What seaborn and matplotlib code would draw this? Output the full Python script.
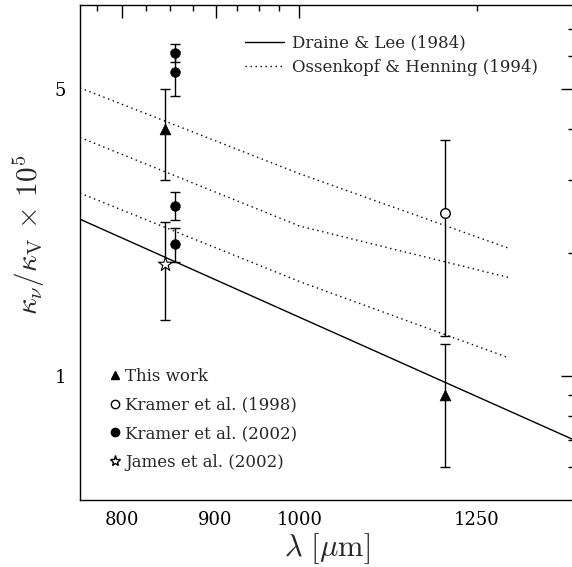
import matplotlib
matplotlib.use("Agg")
import matplotlib.pyplot as plt
import seaborn as sns
import pandas as pd
import numpy as np
from matplotlib.lines import Line2D
from matplotlib.ticker import FixedLocator, FixedFormatter, NullFormatter

# Draine & Lee (1984), read at the plot edges
dl_lam = [759, 1412]
dl_kappa = [2.41, 0.70]

# Ossenkopf & Henning (1994), three models
oh_lam = [759, 1000, 1300]
oh_top = [5.03, 3.11, 2.05]
oh_mid = [3.81, 2.32, 1.74]
oh_low = [2.79, 1.70, 1.11]

# measurements
this_lam = [845, 1200]
this_kappa = [4.0, 0.9]
this_err = [1.0, 0.3]

k98_lam = [1200]
k98_kappa = [2.5]
k98_err = [1.25]

k02_lam = [855, 855, 855, 855]
k02_kappa = [6.12, 5.5, 2.6, 2.1]
k02_err = [0.3, 0.7, 0.2, 0.2]

james_lam = [845]
james_kappa = [1.87]
james_err = [0.5]

x_major = [800, 900, 1000, 1250]
x_minor = [775, 825, 850, 875, 925, 950, 975]
y_major = [1, 5]
y_minor = [0.6, 0.7, 0.8, 0.9, 2, 3, 4, 6, 7]

sns.set_theme(style="white")
plt.rcParams['font.family'] = ['DejaVu Serif']
plt.rcParams['mathtext.fontset'] = 'cm'

fig = plt.figure(figsize=(5.72, 5.67), dpi=100)
ax = fig.add_axes([80 / 572, 67 / 567, 494 / 572, 495 / 567])
ax.set_xscale('log')
ax.set_yscale('log')

oh_df = pd.DataFrame({
    'lam': oh_lam * 3,
    'kappa': oh_top + oh_mid + oh_low,
    'model': ['top'] * 3 + ['mid'] * 3 + ['low'] * 3,
})
dl_df = pd.DataFrame({'lam': dl_lam, 'kappa': dl_kappa})

sns.lineplot(data=dl_df, x='lam', y='kappa', color='black', lw=1.0, ax=ax)
sns.lineplot(data=oh_df, x='lam', y='kappa', units='model', estimator=None,
             color='black', lw=1.0, linestyle=(0, (1, 2.6)), ax=ax)

# error bars
ebkw = dict(fmt='none', ecolor='black', elinewidth=1.0, capsize=3.6, capthick=1.0, zorder=3)
ax.errorbar(this_lam, this_kappa, yerr=this_err, **ebkw)
ax.errorbar(k98_lam, k98_kappa, yerr=k98_err, **ebkw)
ax.errorbar(k02_lam, k02_kappa, yerr=k02_err, **ebkw)
ax.errorbar(james_lam, james_kappa, yerr=james_err, **ebkw)

sns.scatterplot(x=this_lam, y=this_kappa, marker='^', s=60, color='black',
                edgecolor='black', linewidth=0.5, zorder=4, ax=ax)
sns.scatterplot(x=k98_lam, y=k98_kappa, marker='o', s=48, facecolor='white',
                edgecolor='black', linewidth=1.0, zorder=4, ax=ax)
sns.scatterplot(x=k02_lam, y=k02_kappa, marker='o', s=48, color='black',
                edgecolor='black', linewidth=0.5, zorder=4, ax=ax)
sns.scatterplot(x=james_lam, y=james_kappa, marker='*', s=110, facecolor='white',
                edgecolor='black', linewidth=0.8, zorder=4, ax=ax)

ax.set_xlim(759, 1412)
ax.set_ylim(0.5, 8)

# ticks
ax.xaxis.set_major_locator(FixedLocator(x_major))
ax.xaxis.set_major_formatter(FixedFormatter([str(v) for v in x_major]))
ax.xaxis.set_minor_locator(FixedLocator(x_minor))
ax.xaxis.set_minor_formatter(NullFormatter())
ax.yaxis.set_major_locator(FixedLocator(y_major))
ax.yaxis.set_major_formatter(FixedFormatter([str(v) for v in y_major]))
ax.yaxis.set_minor_locator(FixedLocator(y_minor))
ax.yaxis.set_minor_formatter(NullFormatter())
ax.tick_params(which='both', direction='in', top=True, right=True, width=1.0, colors='black')
ax.tick_params(which='major', length=9.5, labelsize=13)
ax.tick_params(which='minor', length=4.5)
ax.tick_params(axis='x', which='major', pad=8)
ax.tick_params(axis='y', which='major', pad=10)
# 1250 gets a short tick
t1250 = ax.xaxis.get_major_ticks()[3]
t1250.tick1line.set_markersize(4.5)
t1250.tick2line.set_markersize(4.5)

for sp in ax.spines.values():
    sp.set_linewidth(1.0)
    sp.set_color('black')

ax.set_xlabel(r'$\lambda\ [\mu\mathrm{m}]$', fontsize=22)
ax.xaxis.set_label_coords(0.5, -0.062)
ax.set_ylabel(r'$\kappa_\nu/\kappa_{\rm V}\,\times\,10^5$', fontsize=21)
ax.yaxis.set_label_coords(-0.066, 0.535)

# line legend (top right)
line_handles = [
    Line2D([], [], color='black', lw=1.0),
    Line2D([], [], color='black', lw=1.0, linestyle=(0, (1, 2.6))),
]
leg1 = ax.legend(line_handles, ['Draine & Lee (1984)', 'Ossenkopf & Henning (1994)'],
                 loc='upper left', bbox_to_anchor=(0.335, 0.94), frameon=False,
                 fontsize=12, handlelength=2.3, handletextpad=0.5, labelspacing=0.42,
                 borderpad=0, borderaxespad=0)
ax.add_artist(leg1)

# symbol legend (bottom left)
sym_handles = [
    Line2D([], [], marker='^', color='black', ls='none', markersize=6),
    Line2D([], [], marker='o', markerfacecolor='white', markeredgecolor='black', ls='none', markersize=6),
    Line2D([], [], marker='o', color='black', ls='none', markersize=6),
    Line2D([], [], marker='*', markerfacecolor='white', markeredgecolor='black', ls='none', markersize=8),
]
ax.legend(sym_handles, ['This work', 'Kramer et al. (1998)', 'Kramer et al. (2002)', 'James et al. (2002)'],
          loc='upper left', bbox_to_anchor=(0.06, 0.267), frameon=False, fontsize=12,
          handlelength=0.6, handletextpad=0.35, labelspacing=0.7, borderpad=0, borderaxespad=0)

fig.savefig('out.png', dpi=100)
